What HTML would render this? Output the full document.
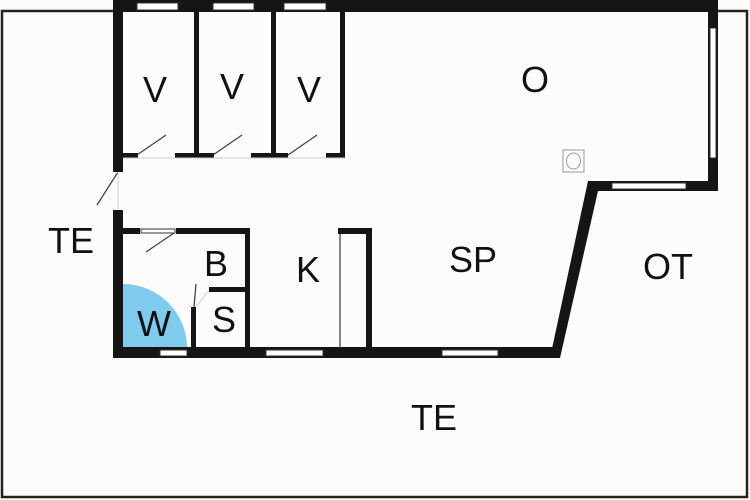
<!DOCTYPE html>
<html><head><style>
html,body{margin:0;padding:0;background:#fdfcfa;}
svg{display:block}
text{font-family:"Liberation Sans",sans-serif;fill:#111;font-size:36px;text-anchor:middle}
</style></head><body>
<svg width="750" height="500" viewBox="0 0 750 500">
<rect width="750" height="500" fill="#fdfcfa"/>
<!-- terrace outline -->
<polyline points="113,11 2,11 2,497 747,497 747,11 718,11" fill="none" stroke="#222" stroke-width="2.5"/>
<!-- blue arc -->
<path d="M123,348 L123,284 A64,64 0 0 1 187,348 Z" fill="#7fcbee"/>
<g fill="#151515">
<!-- top wall -->
<rect x="113" y="0" width="605" height="12"/>
<!-- right wall -->
<rect x="708" y="0" width="10" height="191"/>
<rect x="590" y="181" width="128" height="10"/>
<polygon points="588,181 598,181 598,191 560,358 550,358"/>
<!-- left wall -->
<rect x="113" y="0" width="10" height="172"/>
<rect x="113" y="210" width="10" height="148"/>
<!-- bottom wall -->
<rect x="113" y="347" width="443" height="11"/>
<!-- V partitions -->
<rect x="194" y="12" width="5" height="146"/>
<rect x="271" y="12" width="5" height="146"/>
<rect x="340" y="12" width="5" height="146"/>
<rect x="123" y="153" width="15" height="5"/>
<rect x="175" y="153" width="39" height="5"/>
<rect x="251" y="153" width="37" height="5"/>
<rect x="326" y="153" width="19" height="5"/>
<!-- bath -->
<rect x="123" y="228" width="17" height="6"/>
<rect x="176" y="228" width="74" height="6"/>
<rect x="245" y="228" width="5" height="120"/>
<rect x="209" y="287" width="41" height="5"/>
<rect x="191" y="307" width="5" height="41"/>
<!-- K -->
<rect x="338" y="228" width="34" height="6"/>
<rect x="366" y="228" width="6" height="120"/>
</g>
<!-- windows -->
<g fill="#fff" stroke="#333" stroke-width="1">
<rect x="137" y="3" width="41" height="7"/>
<rect x="213" y="3" width="41" height="7"/>
<rect x="284" y="3" width="42" height="7"/>
<rect x="710" y="28" width="6" height="130"/>
<rect x="612" y="183" width="74" height="6"/>
<rect x="160" y="350" width="27" height="6"/>
<rect x="266" y="350" width="57" height="6"/>
<rect x="442" y="350" width="56" height="6"/>
<rect x="141" y="229" width="34" height="4"/>
</g>
<!-- thin lines -->
<g stroke="#444" stroke-width="1.3">
<line x1="137" y1="155" x2="166" y2="135"/>
<line x1="213" y1="155" x2="242" y2="135"/>
<line x1="288" y1="155" x2="317" y2="135"/>
<line x1="118" y1="172" x2="97" y2="205"/>
<line x1="146" y1="252" x2="174" y2="233"/>
<line x1="194" y1="307" x2="196" y2="284"/>
<line x1="340" y1="234" x2="340" y2="348"/>
</g>
<g stroke="#ccc" stroke-width="1" fill="none">
<line x1="118" y1="172" x2="118" y2="210"/>
<line x1="123" y1="158" x2="345" y2="158"/>
<line x1="196" y1="307" x2="209" y2="290"/>
</g>
<rect x="563" y="150" width="21" height="22" fill="#fff" stroke="#999" stroke-width="1"/>
<ellipse cx="573.5" cy="161" rx="7" ry="8" fill="none" stroke="#999" stroke-width="1"/>
<text x="155" y="102">V</text>
<text x="232" y="99">V</text>
<text x="309" y="102">V</text>
<text x="535" y="92">O</text>
<text x="71" y="253">TE</text>
<text x="473" y="272">SP</text>
<text x="668" y="279">OT</text>
<text x="308" y="282">K</text>
<text x="216" y="276">B</text>
<text x="224" y="332">S</text>
<text x="154" y="336">W</text>
<text x="434" y="430">TE</text>
</svg>
</body></html>
